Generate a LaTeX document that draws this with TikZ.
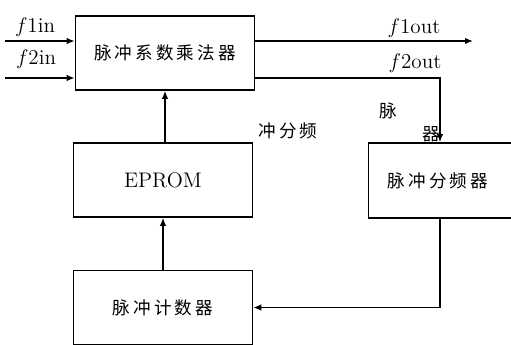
\documentclass[tikz,border=0pt]{standalone}
\usepackage{fontspec}
\newfontfamily\cjk[LetterSpace=18]{Noto Sans CJK SC}
\usepackage{tikz}
\usetikzlibrary{calc,arrows.meta,positioning}
\tikzset{
  ar/.style={-{Latex[length=1.6mm,width=1.3mm]},semithick},
  box/.style={draw,line width=1.1pt,minimum width=3.58cm,minimum height=1.48cm,inner sep=0pt},
  zh/.style={font=\cjk\fontsize{10}{11}\selectfont},
  lb/.style={font=\fontsize{12}{13}\selectfont,inner sep=0pt}
}
\begin{document}
\begin{tikzpicture}[x=0.02cm,y=-0.02cm]
\useasboundingbox (0,0) rectangle (511,345);
% blocks
\node[box,zh] (mult) at (165,53) {脉冲系数乘法器};
\node[box,font=\fontsize{12}{14}\selectfont] (eprom) at (163,180) {EPROM};
\node[box,zh] (counter) at (163,307.5) {脉冲计数器};
\node[box,zh,minimum width=3.1cm,minimum height=1.5cm] (divider) at (446,180.5) {\hspace*{-0.32cm}脉冲分频器};
% inputs and outputs
\coordinate (in1) at (5,41);
\coordinate (in2) at (5,78);
\coordinate (out1) at (473,41);
\coordinate (dn) at (440,0);
\draw[ar] (in1) -- (mult.west |- in1);
\draw[ar] (in2) -- (mult.west |- in2);
\draw[ar,thick] (mult.east |- in1) -- (out1);
\draw[ar] (mult.east |- in2) -| (dn |- divider.north);
\draw[ar] (dn |- divider.south) |- (counter.east);
\draw[ar] (counter.north) -- (eprom.south);
\draw[ar] (eprom.north -| mult.south) -- (mult.south);
% labels
\node[lb] (lin1) at (35,27) {$f$1in};
\node[lb] (lin2) at (36,59) {$f$2in};
\node[lb] (lout1) at (414,28) {$f$1out};
\node[lb] (lout2) at (415,63) {$f$2out};
\node[zh,inner sep=0pt] (frag1) at (288,131) {冲分频};
\node[zh,inner sep=0pt] (frag2) at (388,111) {脉};
\node[zh,inner sep=0pt] (frag3) at (431,134) {器};
\end{tikzpicture}
\end{document}
